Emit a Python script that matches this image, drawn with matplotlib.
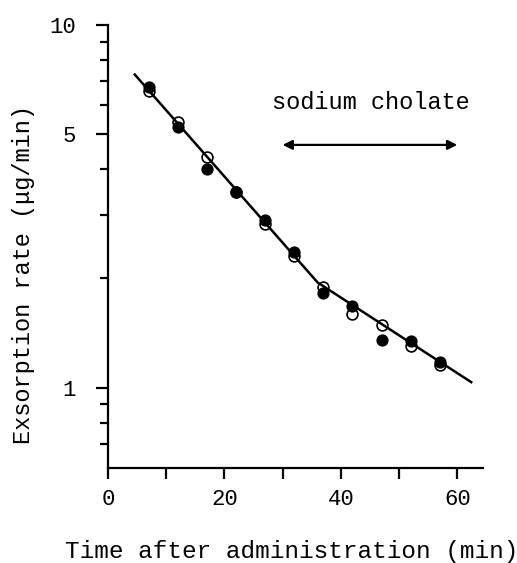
import matplotlib.pyplot as plt
from matplotlib.ticker import FixedLocator, NullFormatter

# time points (min)
time = [7, 12, 17, 22, 27, 32, 37, 42, 47, 52, 57]
# exsorption rate, two series (ug/min)
filled_rate = [6.76, 5.24, 4.00, 3.46, 2.90, 2.37, 1.82, 1.68, 1.35, 1.34, 1.18]
open_rate = [6.59, 5.41, 4.32, 3.46, 2.83, 2.30, 1.90, 1.60, 1.49, 1.30, 1.155]

# fitted line (biphasic)
fit_time = [4.6, 36, 62.4]
fit_rate = [7.3, 1.95, 1.035]

# sodium cholate period
cholate_start = 30
cholate_end = 60

font = 'Liberation Mono'

fig = plt.figure(figsize=(5.17, 5.63), dpi=100)
ax = fig.add_axes([0.2089, 0.1687, 0.934 - 0.2089, 0.9556 - 0.1687])

ax.plot(time, open_rate, 'o', mfc='white', mec='black', mew=1.2, ms=7.8, zorder=2)
ax.plot(fit_time, fit_rate, '-', color='black', lw=1.8, zorder=3)
ax.plot(time, filled_rate, 'o', mfc='black', mec='black', ms=7.8, zorder=4)

ax.set_yscale('log')
ax.set_xlim(0, 64.4)
ax.set_ylim(0.6, 10)

ax.yaxis.set_major_locator(FixedLocator([1, 5, 10]))
ax.yaxis.set_minor_locator(FixedLocator([0.7, 0.8, 0.9, 2, 3, 4, 6, 7, 8, 9]))
ax.yaxis.set_major_formatter(plt.FixedFormatter(['1', '5', '10']))
ax.yaxis.set_minor_formatter(NullFormatter())
ax.xaxis.set_major_locator(FixedLocator([0, 20, 40, 60]))
ax.xaxis.set_minor_locator(FixedLocator([10, 30, 50]))

for s in ['top', 'right']:
    ax.spines[s].set_visible(False)
for s in ['left', 'bottom']:
    ax.spines[s].set_linewidth(1.6)

ax.tick_params(axis='y', which='major', direction='out', length=9, width=1.6, pad=14)
ax.tick_params(axis='y', which='minor', direction='out', length=6, width=1.6)
ax.tick_params(axis='x', which='both', direction='out', length=8, width=1.6, pad=7)
for lab in ax.get_xticklabels() + ax.get_yticklabels():
    lab.set_fontfamily(font)
    lab.set_fontsize(16)

ax.set_xlabel('Time after administration (min)', fontfamily=font, fontsize=17.6)
ax.set_ylabel('Exsorption rate (\u03bcg/min)', fontfamily=font, fontsize=17)
ax.xaxis.set_label_coords(0.49, -0.163)
ax.yaxis.set_label_coords(-0.194, 0.436)

ax.annotate('', xy=(cholate_start, 4.67), xytext=(cholate_end, 4.67),
            arrowprops=dict(arrowstyle='<|-|>', color='black', lw=1.6,
                            mutation_scale=14, shrinkA=0, shrinkB=0))
ax.text(45.2, 6.13, 'sodium cholate', fontfamily=font, fontsize=17,
        ha='center', va='center')

fig.savefig('out.png', dpi=100)
